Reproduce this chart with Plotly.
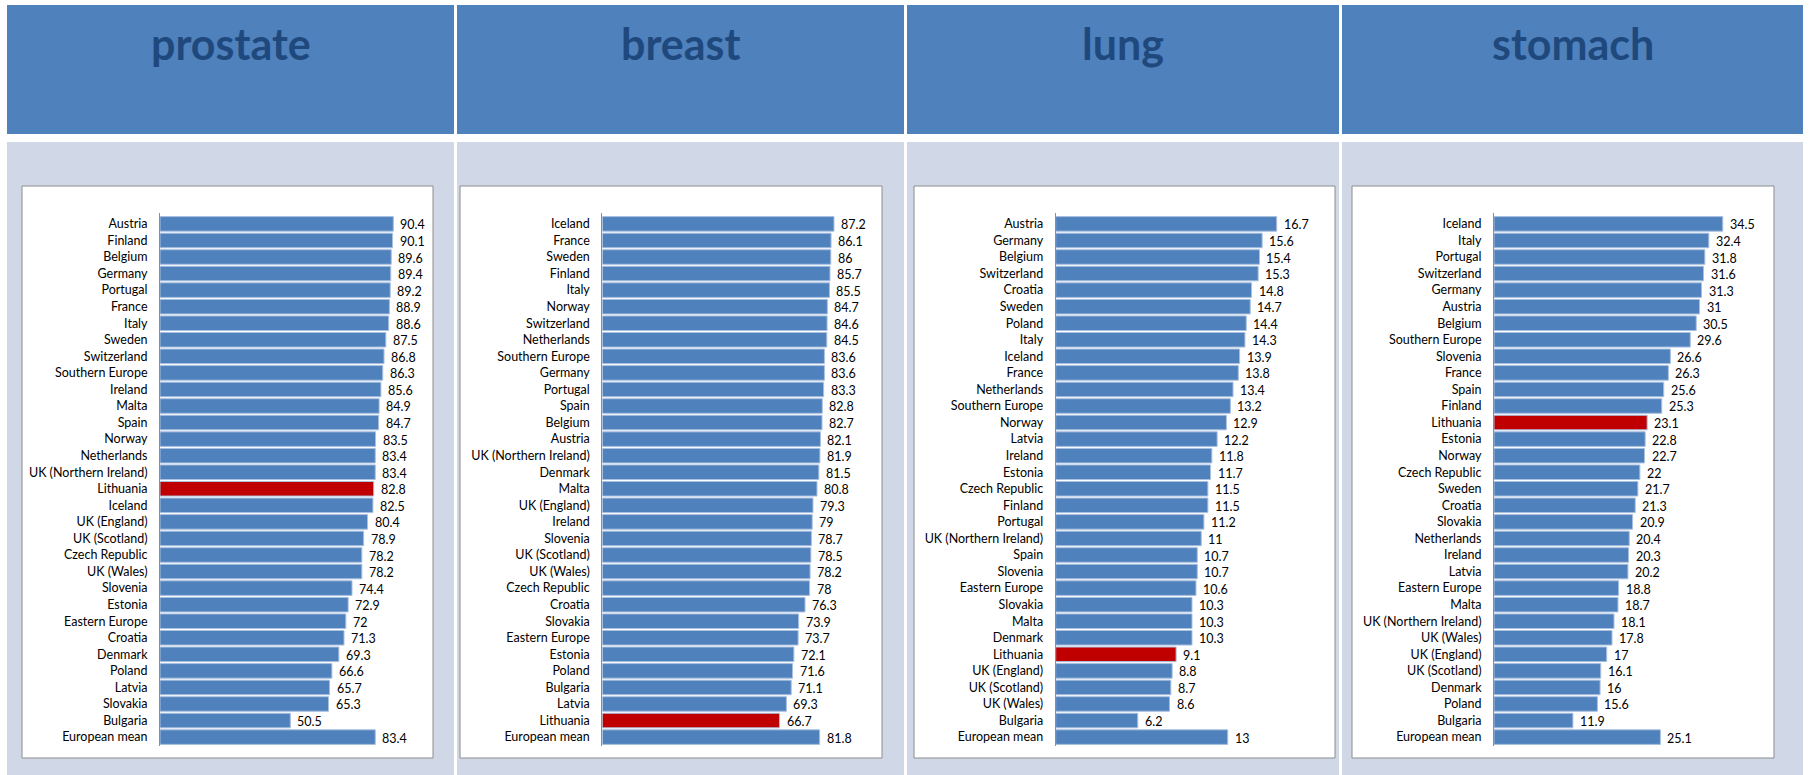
import plotly.graph_objects as go

W, H = 1810, 775

# ---------------- data ----------------
prostate_countries = ["Austria", "Finland", "Belgium", "Germany", "Portugal", "France", "Italy", "Sweden",
                      "Switzerland", "Southern Europe", "Ireland", "Malta", "Spain", "Norway", "Netherlands",
                      "UK (Northern Ireland)", "Lithuania", "Iceland", "UK (England)", "UK (Scotland)",
                      "Czech Republic", "UK (Wales)", "Slovenia", "Estonia", "Eastern Europe", "Croatia",
                      "Denmark", "Poland", "Latvia", "Slovakia", "Bulgaria", "European mean"]
prostate_values = [90.4, 90.1, 89.6, 89.4, 89.2, 88.9, 88.6, 87.5, 86.8, 86.3, 85.6, 84.9, 84.7, 83.5, 83.4,
                   83.4, 82.8, 82.5, 80.4, 78.9, 78.2, 78.2, 74.4, 72.9, 72, 71.3, 69.3, 66.6, 65.7, 65.3,
                   50.5, 83.4]

breast_countries = ["Iceland", "France", "Sweden", "Finland", "Italy", "Norway", "Switzerland", "Netherlands",
                    "Southern Europe", "Germany", "Portugal", "Spain", "Belgium", "Austria",
                    "UK (Northern Ireland)", "Denmark", "Malta", "UK (England)", "Ireland", "Slovenia",
                    "UK (Scotland)", "UK (Wales)", "Czech Republic", "Croatia", "Slovakia", "Eastern Europe",
                    "Estonia", "Poland", "Bulgaria", "Latvia", "Lithuania", "European mean"]
breast_values = [87.2, 86.1, 86, 85.7, 85.5, 84.7, 84.6, 84.5, 83.6, 83.6, 83.3, 82.8, 82.7, 82.1, 81.9,
                 81.5, 80.8, 79.3, 79, 78.7, 78.5, 78.2, 78, 76.3, 73.9, 73.7, 72.1, 71.6, 71.1, 69.3,
                 66.7, 81.8]

lung_countries = ["Austria", "Germany", "Belgium", "Switzerland", "Croatia", "Sweden", "Poland", "Italy",
                  "Iceland", "France", "Netherlands", "Southern Europe", "Norway", "Latvia", "Ireland",
                  "Estonia", "Czech Republic", "Finland", "Portugal", "UK (Northern Ireland)", "Spain",
                  "Slovenia", "Eastern Europe", "Slovakia", "Malta", "Denmark", "Lithuania", "UK (England)",
                  "UK (Scotland)", "UK (Wales)", "Bulgaria", "European mean"]
lung_values = [16.7, 15.6, 15.4, 15.3, 14.8, 14.7, 14.4, 14.3, 13.9, 13.8, 13.4, 13.2, 12.9, 12.2, 11.8,
               11.7, 11.5, 11.5, 11.2, 11, 10.7, 10.7, 10.6, 10.3, 10.3, 10.3, 9.1, 8.8, 8.7, 8.6, 6.2, 13]

stomach_countries = ["Iceland", "Italy", "Portugal", "Switzerland", "Germany", "Austria", "Belgium",
                     "Southern Europe", "Slovenia", "France", "Spain", "Finland", "Lithuania", "Estonia",
                     "Norway", "Czech Republic", "Sweden", "Croatia", "Slovakia", "Netherlands", "Ireland",
                     "Latvia", "Eastern Europe", "Malta", "UK (Northern Ireland)", "UK (Wales)",
                     "UK (England)", "UK (Scotland)", "Denmark", "Poland", "Bulgaria", "European mean"]
stomach_values = [34.5, 32.4, 31.8, 31.6, 31.3, 31, 30.5, 29.6, 26.6, 26.3, 25.6, 25.3, 23.1, 22.8, 22.7,
                  22, 21.7, 21.3, 20.9, 20.4, 20.3, 20.2, 18.8, 18.7, 18.1, 17.8, 17, 16.1, 16, 15.6,
                  11.9, 25.1]

panel_titles = ["prostate", "breast", "lung", "stomach"]
highlight = "Lithuania"

# ---------------- styling / layout ----------------
BLUE = "#4F81BD"
RED = "#C00000"
HEADER = "#4F81BD"
GRAY = "#D0D8E8"
TITLE = "#1F497D"
FONT = "Lato"

header_x = [(7, 454), (457, 904), (907, 1339), (1342, 1803)]
box_x = [(22, 433), (460, 882), (914, 1335), (1352, 1774)]
plot_x = [(160, 418.1), (602.3, 868.0), (1055.7, 1293.9), (1494, 1759.2)]
x_ranges = [[0, 100], [0, 100], [0, 18], [0, 40]]
plot_y = (213.4, 745.6)


def px(x):
    return x / W


def py(y):
    return 1 - y / H


panels = [(prostate_countries, prostate_values), (breast_countries, breast_values),
          (lung_countries, lung_values), (stomach_countries, stomach_values)]

fig = go.Figure()
shapes = []
annotations = []
layout_axes = {}

for i, (cats, vals) in enumerate(panels):
    n = "" if i == 0 else str(i + 1)
    xa, ya = "x" + n, "y" + n
    colors = [RED if c == highlight else BLUE for c in cats]
    fig.add_trace(go.Bar(
        x=vals, y=cats, orientation="h", xaxis=xa, yaxis=ya,
        marker=dict(color=colors, line=dict(color="#A9C0E0", width=1)),
        hoverinfo="x+y", showlegend=False,
    ))
    layout_axes["xaxis" + n] = dict(
        domain=[px(plot_x[i][0]), px(plot_x[i][1])], range=x_ranges[i], anchor=ya,
        showgrid=False, zeroline=False, showticklabels=False, ticks="", showline=False, fixedrange=True,
    )
    layout_axes["yaxis" + n] = dict(
        domain=[py(plot_y[1]), py(plot_y[0])], anchor=xa, type="category",
        categoryorder="array", categoryarray=cats, autorange="reversed",
        showgrid=False, zeroline=False, showline=True, linecolor="#8C8C8C", linewidth=1,
        ticks="", ticklabelstandoff=9, tickfont=dict(family=FONT, size=12.5, color="#000000"),
        fixedrange=True,
    )
    for c, v in zip(cats, vals):
        annotations.append(dict(
            x=v, y=c, xref=xa, yref=ya, text=f"{v:g}", showarrow=False,
            xanchor="left", yanchor="middle", xshift=5, yshift=-1,
            font=dict(family=FONT, size=12.5, color="#000000"),
        ))
    # header band
    hx0, hx1 = header_x[i]
    shapes.append(dict(type="rect", xref="paper", yref="paper", x0=px(hx0), x1=px(hx1),
                       y0=py(134), y1=py(5), fillcolor=HEADER, line=dict(width=0), layer="below"))
    # gray panel
    shapes.append(dict(type="rect", xref="paper", yref="paper", x0=px(hx0), x1=px(hx1),
                       y0=py(775), y1=py(142), fillcolor=GRAY, line=dict(width=0), layer="below"))
    # white chart box
    bx0, bx1 = box_x[i]
    shapes.append(dict(type="rect", xref="paper", yref="paper", x0=px(bx0), x1=px(bx1),
                       y0=py(758), y1=py(186), fillcolor="#FFFFFF",
                       line=dict(color="#8C8C8C", width=1), layer="below"))
    annotations.append(dict(
        x=px((hx0 + hx1) / 2), y=py(44), xref="paper", yref="paper", text="<b>" + panel_titles[i] + "</b>",
        showarrow=False, xanchor="center", yanchor="middle",
        font=dict(family=FONT, size=43, color=TITLE),
    ))

fig.update_layout(
    width=W, height=H, margin=dict(l=0, r=0, t=0, b=0),
    paper_bgcolor="#FFFFFF", plot_bgcolor="rgba(0,0,0,0)",
    bargap=0.12, shapes=shapes, annotations=annotations, showlegend=False,
    **layout_axes,
)

fig.write_html("out.html", config={"displayModeBar": False},
               post_script="document.body.style.margin='0';document.body.style.padding='0';")
